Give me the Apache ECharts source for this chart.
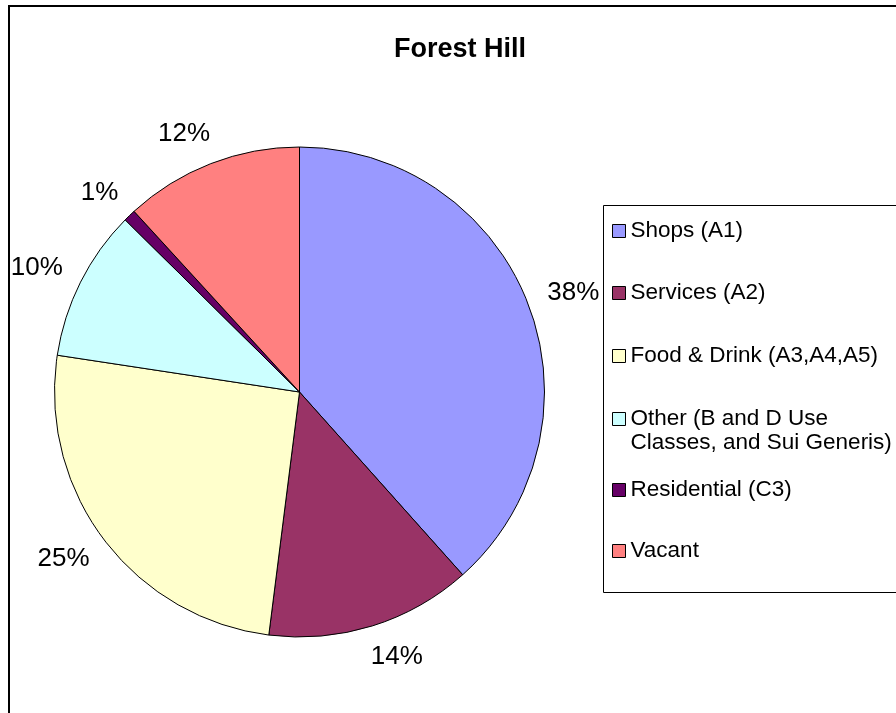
<!DOCTYPE html>
<html>
<head>
<meta charset="utf-8">
<script src="https://cdn.jsdelivr.net/npm/echarts@6/dist/echarts.min.js"></script>
<style>
html,body{margin:0;padding:0;background:#fff;}
#chart{width:896px;height:713px;}
</style>
</head>
<body>
<div id="chart"></div>
<script>
// ---- data ----
var titleText = 'Forest Hill';
var categories = ['Shops (A1)', 'Services (A2)', 'Food & Drink (A3,A4,A5)',
  'Other (B and D Use Classes, and Sui Generis)', 'Residential (C3)', 'Vacant'];
var shares = [38.4, 13.6, 25.4, 10.0, 0.8, 11.8];
var colors = ['#9999FF', '#993366', '#FFFFCC', '#CCFFFF', '#660066', '#FF8080'];
var legendLines = [
  ['Shops (A1)'],
  ['Services (A2)'],
  ['Food & Drink (A3,A4,A5)'],
  ['Other (B and D Use', 'Classes, and Sui Generis)'],
  ['Residential (C3)'],
  ['Vacant']
];

var FONT = '"Liberation Sans", Arial, Helvetica, sans-serif';
var CX = 299.5, CY = 392, R = 245;

var pieData = categories.map(function (c, i) {
  return { name: c, value: shares[i], itemStyle: { color: colors[i] } };
});

// legend rows: y of the centre of each entry's first text line
var legendRowY = [231, 293, 356, 419, 490, 551];
var legends = categories.map(function (c, i) {
  var lines = legendLines[i];
  var multi = lines.length > 1;
  return {
    data: [c],
    orient: 'vertical',
    left: 612,
    top: multi ? legendRowY[i] - 36 : legendRowY[i] - 12,
    padding: 0,
    itemWidth: 13,
    itemHeight: 13,
    itemGap: 0,
    icon: 'rect',
    selectedMode: false,
    itemStyle: { borderColor: '#000', borderWidth: 1 },
    // for the two-line entry an empty first line keeps the icon beside the first text line
    formatter: function () { return multi ? '\n' + lines.join('\n') : lines[0]; },
    textStyle: { fontFamily: FONT, fontSize: 22.5, color: '#000', lineHeight: 24 }
  };
});

var chart = echarts.init(document.getElementById('chart'), null, { renderer: 'canvas' });
chart.setOption({
  animation: false,
  backgroundColor: '#fff',
  title: {
    text: titleText,
    left: 460,
    top: 36,
    padding: 0,
    textAlign: 'center',
    textStyle: { fontFamily: FONT, fontSize: 27, fontWeight: 'bold', color: '#000' }
  },
  legend: legends,
  graphic: [
    { type: 'rect', shape: { x: 9, y: 6, width: 1000, height: 1000 },
      style: { fill: 'none', stroke: '#000', lineWidth: 2 }, silent: true, z: 0 },
    { type: 'rect', shape: { x: 603.5, y: 205.5, width: 400, height: 387 },
      style: { fill: 'none', stroke: '#000', lineWidth: 1 }, silent: true, z: 0 }
  ],
  series: [
    {
      type: 'pie',
      center: [CX, CY],
      radius: [0, R],
      startAngle: 90,
      clockwise: true,
      avoidLabelOverlap: false,
      data: pieData,
      itemStyle: { borderColor: '#000', borderWidth: 1 },
      label: {
        show: true,
        position: 'outside',
        alignTo: 'none',
        distanceToLabelLine: -11,
        fontFamily: FONT,
        fontSize: 26,
        color: '#000',
        formatter: function (p) { return Math.round(p.percent) + '%'; }
      },
      labelLine: { show: false, length: 32, length2: 0 },
      emphasis: { disabled: true }
    }
  ]
});
</script>
</body>
</html>
